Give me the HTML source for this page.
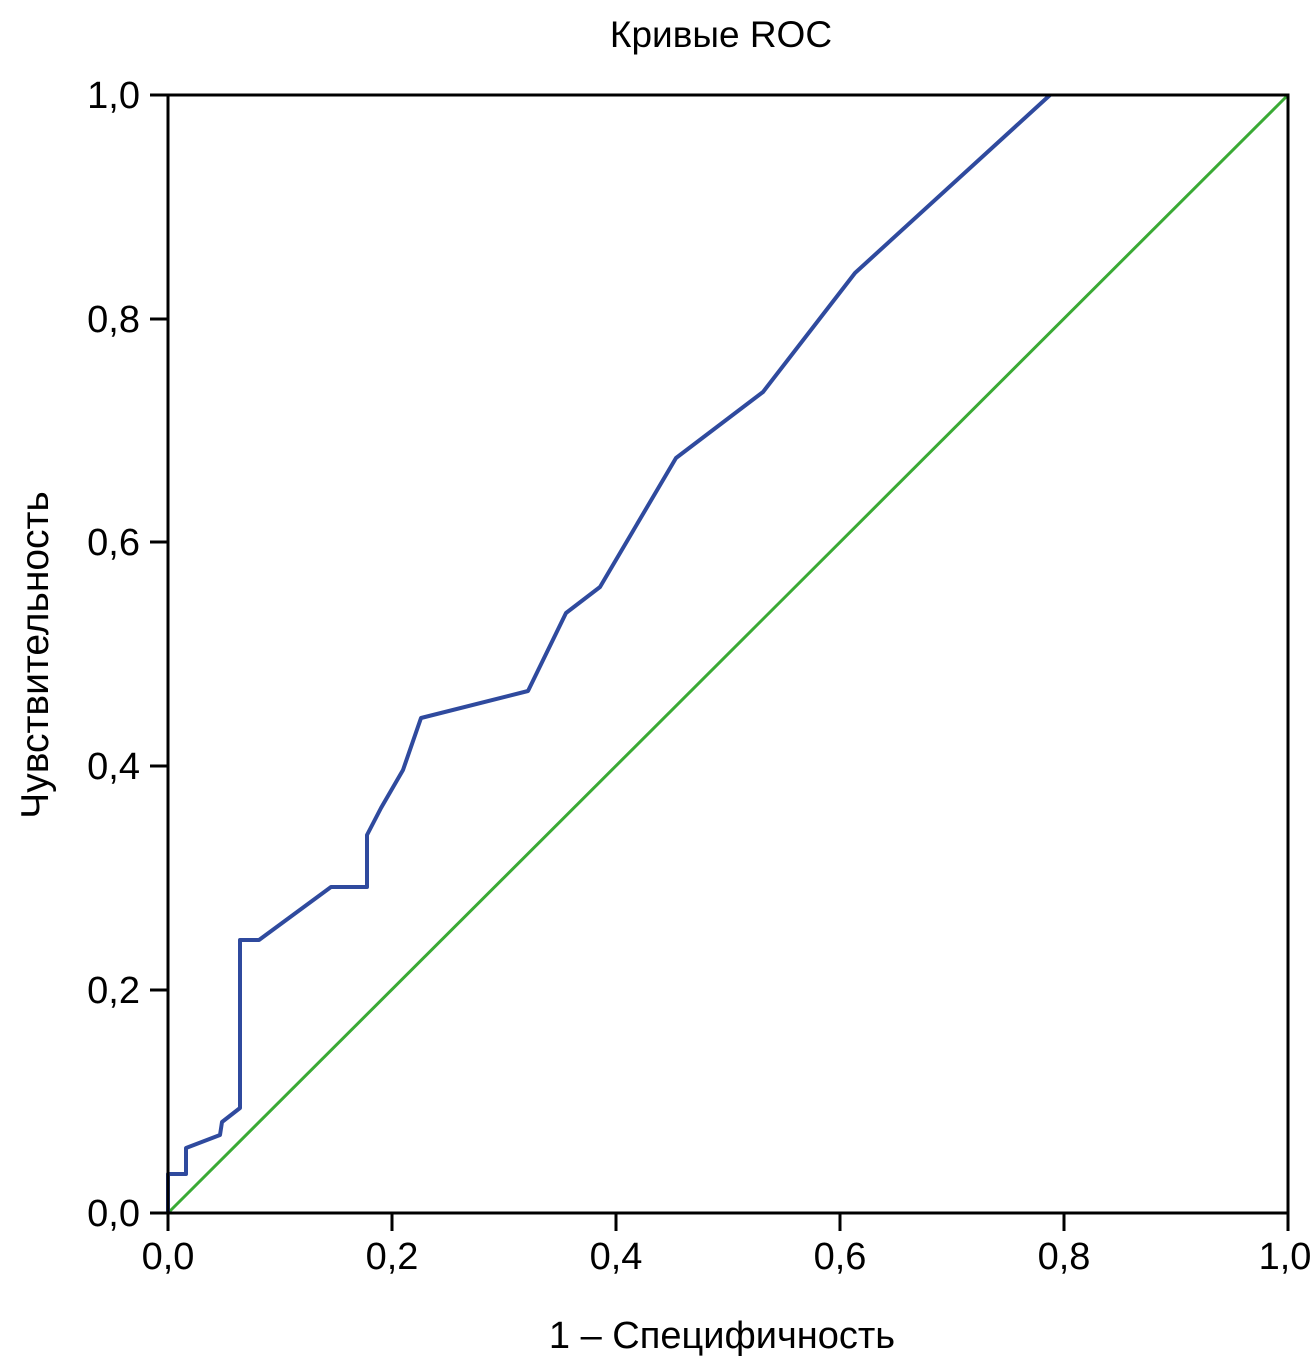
<!DOCTYPE html>
<html><head><meta charset="utf-8"><style>
body{margin:0;background:#fff}
text{font-family:"Liberation Sans",sans-serif;fill:#000}
</style></head><body>
<svg width="1313" height="1367" xmlns="http://www.w3.org/2000/svg">
<text x="721" y="47" font-size="37" text-anchor="middle">Кривые ROC</text>
<line x1="168" y1="1213" x2="1288" y2="95" stroke="#3aaa35" stroke-width="3"/>
<polyline fill="none" stroke="#2f4a9e" stroke-width="4" stroke-linejoin="round" points="168,1213 168,1174 186,1174 186,1148 220,1135 222,1122 240,1108 240,940 259,940 331,887 367,887 367,835 381,808 403,770 421,718 528,691 566,613 600,587 676,458 763,392 855,273 1050,95"/>
<rect x="168" y="95" width="1120" height="1118" fill="none" stroke="#000" stroke-width="3"/>
<g stroke="#000" stroke-width="3">
<line x1="150" y1="95" x2="168" y2="95"/><line x1="150" y1="319" x2="168" y2="319"/><line x1="150" y1="542" x2="168" y2="542"/><line x1="150" y1="766" x2="168" y2="766"/><line x1="150" y1="990" x2="168" y2="990"/><line x1="150" y1="1213" x2="168" y2="1213"/>
<line x1="168" y1="1213" x2="168" y2="1231"/><line x1="392" y1="1213" x2="392" y2="1231"/><line x1="616" y1="1213" x2="616" y2="1231"/><line x1="840" y1="1213" x2="840" y2="1231"/><line x1="1064" y1="1213" x2="1064" y2="1231"/><line x1="1288" y1="1213" x2="1288" y2="1231"/>
</g>
<g font-size="38" text-anchor="end">
<text x="140" y="108">1,0</text><text x="140" y="332">0,8</text><text x="140" y="555">0,6</text><text x="140" y="779">0,4</text><text x="140" y="1003">0,2</text><text x="140" y="1226">0,0</text>
</g>
<g font-size="38" text-anchor="middle">
<text x="168" y="1269">0,0</text><text x="392" y="1269">0,2</text><text x="616" y="1269">0,4</text><text x="840" y="1269">0,6</text><text x="1064" y="1269">0,8</text><text x="1285" y="1269">1,0</text>
</g>
<text x="722" y="1348" font-size="38" text-anchor="middle">1 – Специфичность</text>
<text transform="translate(48,655) rotate(-90)" font-size="39" text-anchor="middle">Чувствительность</text>
</svg>
</body></html>
